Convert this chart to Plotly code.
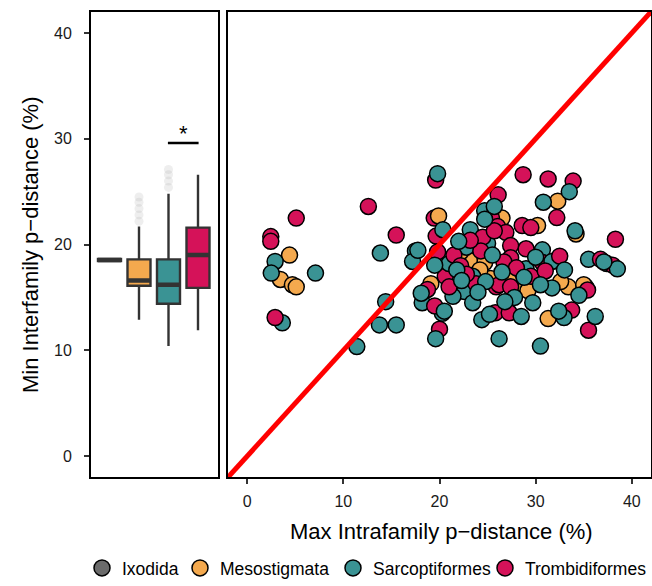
import plotly.graph_objects as go

# ---------------- data ----------------
families = ["Ixodida", "Mesostigmata", "Sarcoptiformes", "Trombidiformes"]
colors = ["#6B6B6B", "#F4A94E", "#3A9394", "#D51259"]

# box-plot summary (Min Interfamily p-distance, %)
box_pos = [0, 1, 2, 3]
box_q1 = [18.45, 16.1, 14.4, 15.9]
box_med = [18.55, 16.6, 16.2, 19.0]
box_q3 = [18.65, 18.6, 18.6, 21.6]
box_lo = [18.45, 12.9, 10.4, 11.9]
box_hi = [18.65, 21.7, 24.8, 26.6]
out_pos = [1, 1, 1, 1, 1, 2, 2, 2, 2]
out_val = [22.2, 22.8, 23.4, 24.0, 24.5, 25.4, 26.0, 26.6, 27.1]
sig_pair = [2, 3]
sig_y = 29.6

# scatter: max intrafamily (x) vs min interfamily (y)
ixo_x = [23.4, 23.8]
ixo_y = [18.5, 18.6]

meso_x = [4.4, 3.45, 4.7, 5.1, 19.1, 32.3, 26.5, 34.2, 30.2, 24.7, 23.0, 25.3, 28.3,
          30.4, 29.2, 33.4, 35.2, 31.3, 23.1, 32.6, 35.0, 19.9, 22.2, 27.2, 24.2]
meso_y = [19.0, 16.7, 16.2, 16.0, 16.3, 24.1, 22.5, 21.0, 21.8, 18.3, 18.2, 16.8, 16.35,
          16.35, 15.65, 16.0, 16.0, 13.0, 18.5, 16.5, 16.2, 22.7, 19.3, 16.6, 17.6]

sarc_x = [2.9, 2.5, 7.1, 3.65, 13.85, 17.5, 17.2, 14.4, 13.75, 15.5, 11.4, 18.2, 19.8,
          19.6, 20.3, 33.5, 30.8, 24.7, 25.7, 34.1, 23.2, 20.35, 22.8, 25.0, 30.7, 35.5,
          37.4, 38.5, 31.7, 23.45, 21.0, 29.0, 31.7, 34.5, 22.6, 21.4, 23.45, 24.4, 25.2,
          28.5, 29.7, 32.95, 36.2, 26.2, 30.5, 17.75, 24.7, 19.5, 18.1, 20.5, 24.8, 30.5,
          32.4, 37.1, 21.8, 22.3, 26.5, 27.8, 28.8, 26.8, 22.0, 25.5, 30.0, 33.0, 24.0]
sarc_y = [18.4, 17.3, 17.3, 12.6, 19.2, 19.4, 18.4, 14.6, 12.4, 12.4, 10.35, 14.5, 26.7,
          11.1, 13.5, 25.0, 24.0, 23.2, 23.6, 21.3, 21.4, 21.4, 19.75, 20.1, 19.5, 18.6,
          18.2, 17.7, 18.4, 17.0, 18.2, 17.7, 15.9, 15.2, 15.55, 15.1, 14.5, 12.9, 13.4,
          13.2, 14.5, 13.1, 13.2, 11.1, 10.4, 19.45, 22.4, 18.05, 15.4, 13.7, 16.5, 16.2,
          13.7, 18.35, 17.6, 16.6, 17.4, 15.0, 16.9, 14.6, 20.3, 19.0, 18.8, 17.6, 15.5]

trom_x = [5.1, 2.45, 2.45, 2.9, 12.6, 15.5, 18.75, 19.6, 19.45, 19.65, 19.8, 20.0, 28.7,
          31.3, 33.9, 32.2, 26.1, 25.4, 38.3, 26.05, 26.9, 28.6, 29.5, 29.0, 27.4, 36.75,
          38.0, 30.7, 27.4, 20.6, 25.9, 35.4, 25.8, 27.25, 33.75, 35.5, 24.5, 25.7, 26.7,
          26.2, 27.4, 19.5, 21.5, 22.2, 21.0, 23.8, 24.3, 22.8, 29.5, 31.0, 28.0, 32.5, 23.2]
trom_y = [22.5, 20.75, 20.3, 13.1, 23.6, 20.9, 15.75, 26.1, 22.5, 20.8, 19.3, 12.0, 26.6,
          26.2, 26.0, 22.55, 24.7, 22.55, 20.5, 21.7, 21.15, 21.8, 21.6, 19.6, 19.9, 18.6,
          18.05, 18.3, 18.75, 17.0, 16.0, 15.7, 13.55, 13.55, 13.8, 11.9, 20.7, 21.3, 18.35,
          16.2, 16.0, 14.2, 19.0, 18.0, 16.0, 16.3, 19.4, 17.2, 17.0, 17.5, 17.8, 18.9, 20.4]

axis_range = [-2, 42]
ticks = [0, 10, 20, 30, 40]

# ---------------- figure ----------------
W, H = 652, 586
FONT = "Liberation Sans, Arial, sans-serif"


def xp(px):  # window pixel -> paper x
    return px / W


def yp(py):  # window pixel -> paper y
    return 1 - py / H


fig = go.Figure()

box_w = 0.78
for i, fam in enumerate(families):
    fig.add_trace(go.Box(
        x=[box_pos[i]], q1=[box_q1[i]], median=[box_med[i]], q3=[box_q3[i]],
        lowerfence=[box_lo[i]], upperfence=[box_hi[i]],
        fillcolor=colors[i], line=dict(color="#333333", width=2.4),
        whiskerwidth=0, width=box_w, boxpoints=False, showlegend=False,
        hoverinfo="skip", xaxis="x", yaxis="y"))

# thicker median lines
mx, my = [], []
for p, m in zip(box_pos, box_med):
    mx += [p - box_w / 2, p + box_w / 2, None]
    my += [m, m, None]
fig.add_trace(go.Scatter(x=mx, y=my, mode="lines", line=dict(color="#333333", width=4.5),
                         showlegend=False, hoverinfo="skip", xaxis="x", yaxis="y"))

# faded outliers
fig.add_trace(go.Scatter(x=out_pos, y=out_val, mode="markers",
                         marker=dict(size=9, color="rgba(170,170,170,0.2)"),
                         showlegend=False, hoverinfo="skip", xaxis="x", yaxis="y"))

# significance bar
fig.add_trace(go.Scatter(x=[sig_pair[0] - 0.02, sig_pair[1] + 0.02], y=[sig_y, sig_y],
                         mode="lines", line=dict(color="black", width=2.5),
                         showlegend=False, hoverinfo="skip", xaxis="x", yaxis="y"))
fig.add_annotation(x=(sig_pair[0] + sig_pair[1]) / 2, y=sig_y, xref="x", yref="y",
                   text="*", showarrow=False, yanchor="bottom", yshift=-5,
                   font=dict(family=FONT, size=22, color="black"))

# scatter points (interleaved so colours overlap like the original)
groups = [(ixo_x, ixo_y, colors[0]), (meso_x, meso_y, colors[1]),
          (sarc_x, sarc_y, colors[2]), (trom_x, trom_y, colors[3])]
px_, py_, pc_ = [], [], []
n_max = max(len(g[0]) for g in groups)
for k in range(n_max):
    for gx, gy, gc in groups:
        if k < len(gx):
            px_.append(gx[k]); py_.append(gy[k]); pc_.append(gc)
fig.add_trace(go.Scatter(x=px_, y=py_, mode="markers",
                         marker=dict(size=16, color=pc_, line=dict(color="black", width=1.5)),
                         showlegend=False, hoverinfo="skip", xaxis="x2", yaxis="y2"))

# 1:1 line
fig.add_trace(go.Scatter(x=axis_range, y=axis_range, mode="lines",
                         line=dict(color="#FF0000", width=5),
                         showlegend=False, hoverinfo="skip", xaxis="x2", yaxis="y2"))

# legend entries: one legend box per family so spacing follows the original
legend_keys = ["legend", "legend2", "legend3", "legend4"]
legend_left_px = [82, 180, 333, 485]
for fam, c, lk in zip(families, colors, legend_keys):
    fig.add_trace(go.Scatter(x=[None], y=[None], mode="markers", name=fam, legend=lk,
                             marker=dict(size=16, color=c, line=dict(color="black", width=1.5)),
                             xaxis="x2", yaxis="y2"))

y_dom = [yp(483), yp(12)]
frame = dict(showline=True, linecolor="black", linewidth=2, mirror=True,
             showgrid=False, zeroline=False)
tickfont = dict(family=FONT, size=16, color="#1a1a1a")

legend_layout = {}
for lk, lx in zip(legend_keys, legend_left_px):
    legend_layout[lk] = dict(orientation="h", x=xp(lx), xanchor="left", y=yp(575),
                             yanchor="middle", font=dict(family=FONT, size=17.5, color="black"),
                             bgcolor="rgba(0,0,0,0)", itemclick=False, itemdoubleclick=False)

fig.update_layout(
    width=W, height=H, margin=dict(l=0, r=0, t=0, b=0),
    paper_bgcolor="white", plot_bgcolor="white",
    font=dict(family=FONT),
    xaxis=dict(domain=[xp(91), xp(218)], range=[-0.627, 3.678], showticklabels=False,
               ticks="", fixedrange=True, **frame),
    yaxis=dict(domain=y_dom, range=axis_range, tickvals=ticks, ticks="outside",
               ticklen=5, tickwidth=1.5, tickcolor="#333333", tickfont=tickfont,
               ticklabelstandoff=9, **frame),
    xaxis2=dict(domain=[xp(228), xp(651)], range=axis_range, tickvals=ticks,
                ticks="outside", ticklen=5, tickwidth=1.5, tickcolor="#333333",
                tickfont=tickfont, ticklabelstandoff=4, anchor="y2", **frame),
    yaxis2=dict(domain=y_dom, range=axis_range, tickvals=ticks, showticklabels=False,
                ticks="", anchor="x2", **frame),
    showlegend=True,
    **legend_layout,
)

fig.add_annotation(x=xp(441), y=yp(538), xref="paper", yref="paper",
                   text="Max Intrafamily p\u2212distance (%)", showarrow=False,
                   xanchor="center", yanchor="middle",
                   font=dict(family=FONT, size=22, color="black"))
fig.add_annotation(x=xp(30), y=yp(248), xref="paper", yref="paper",
                   text="Min Interfamily p\u2212distance (%)", showarrow=False,
                   textangle=-90, xanchor="center", yanchor="middle",
                   font=dict(family=FONT, size=22, color="black"))

# remove the default page margin so the figure sits at the window origin
fig.write_html("out.html", config={"displayModeBar": False},
               post_script="document.body.style.margin='0px';document.body.style.overflow='hidden';")
